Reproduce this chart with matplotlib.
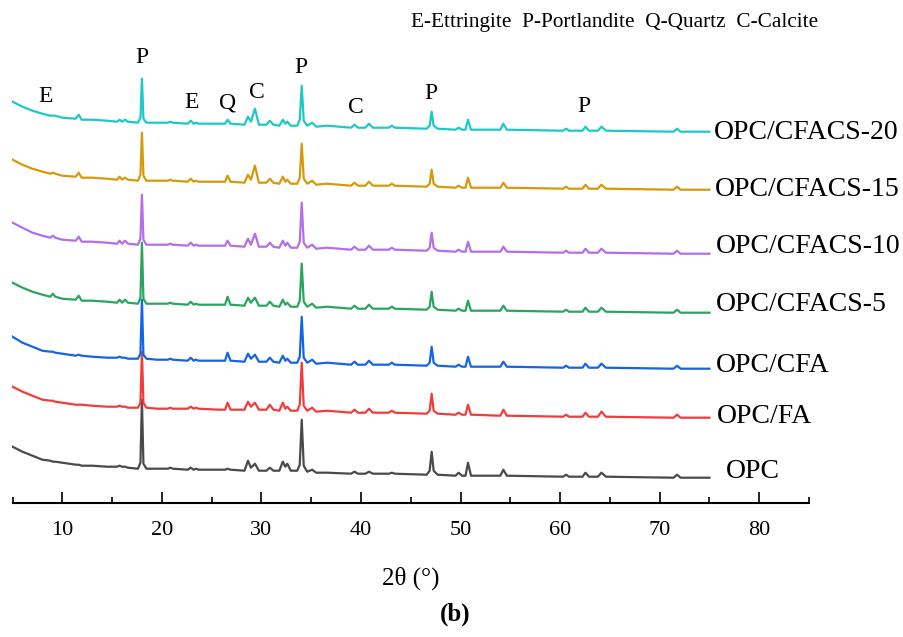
import matplotlib.pyplot as plt
import numpy as np
from matplotlib.ticker import MultipleLocator

plt.rcParams['font.family'] = ['Liberation Serif', 'DejaVu Serif']

two_theta = [
    5.0, 6.0, 7.0, 8.0, 8.8, 9.05, 9.3, 10.0, 11.35, 11.65,
    11.95, 13.0, 14.5, 15.5, 15.75, 16.0, 16.3, 16.6, 17.6, 17.85,
    18.0, 18.15, 18.45, 19.5, 20.6, 20.85, 21.1, 22.6, 22.9, 23.2,
    23.4, 23.7, 25.8, 26.35, 26.6, 26.9, 28.3, 28.65, 28.95, 29.35,
    29.75, 30.5, 30.85, 31.2, 31.8, 32.15, 32.4, 32.6, 32.95, 33.6,
    33.85, 34.05, 34.25, 34.6, 35.1, 35.5, 36.6, 39.0, 39.35, 39.7,
    40.45, 40.8, 41.2, 42.8, 43.1, 43.4, 46.6, 46.9, 47.1, 47.3,
    47.7, 49.5, 49.8, 50.15, 50.5, 50.75, 51.05, 54.0, 54.3, 54.65,
    60.3, 60.6, 60.9, 62.25, 62.55, 62.9, 63.8, 64.15, 64.6, 71.4,
    71.75, 72.1, 75.0,
]

# intensities (a.u.) for each sample, same order as two_theta
opc = [
    41, 36, 32, 28, 27, 26, 26, 25, 23, 23,
    22, 22, 21, 21, 22, 21, 21, 20, 19, 25,
    88, 24, 19, 19, 19, 20, 19, 18, 20, 18,
    19, 18, 18, 18, 19, 18, 17, 27, 20, 24,
    17, 17, 20, 17, 17, 26, 21, 24, 17, 17,
    23, 68, 22, 16, 18, 15, 15, 14, 16, 14,
    14, 16, 14, 14, 15, 14, 13, 17, 36, 17,
    13, 12, 15, 12, 12, 25, 12, 12, 18, 12,
    11, 13, 11, 11, 15, 11, 11, 15, 11, 10,
    13, 10, 10,
]
opc_fa = [
    41, 36, 32, 28, 27, 27, 26, 25, 23, 23,
    23, 22, 21, 21, 22, 21, 21, 20, 20, 25,
    76, 25, 20, 19, 19, 20, 19, 19, 21, 19,
    20, 19, 18, 18, 25, 18, 18, 26, 21, 25,
    18, 18, 23, 18, 17, 25, 19, 21, 17, 17,
    23, 65, 22, 17, 20, 16, 17, 15, 18, 15,
    15, 19, 15, 15, 17, 15, 14, 17, 34, 17,
    14, 13, 15, 13, 13, 23, 13, 12, 18, 12,
    11, 13, 11, 11, 15, 11, 11, 16, 11, 10,
    13, 10, 10,
]
opc_cfa = [
    42, 36, 32, 28, 27, 27, 26, 25, 23, 24,
    23, 22, 21, 21, 22, 21, 21, 20, 20, 25,
    79, 24, 20, 19, 19, 20, 19, 18, 21, 18,
    19, 18, 18, 18, 26, 18, 17, 25, 20, 24,
    17, 17, 21, 17, 16, 23, 18, 20, 16, 16,
    22, 62, 21, 16, 19, 15, 16, 14, 17, 14,
    14, 18, 14, 14, 16, 14, 13, 16, 32, 16,
    13, 12, 14, 12, 12, 22, 12, 12, 17, 12,
    11, 13, 11, 11, 15, 11, 11, 15, 11, 10,
    13, 10, 10,
]
opc_cfacs5 = [
    40, 35, 31, 28, 26, 29, 26, 24, 23, 27,
    22, 22, 21, 20, 23, 20, 23, 20, 19, 25,
    80, 24, 19, 19, 19, 20, 19, 18, 21, 18,
    19, 18, 18, 18, 26, 18, 17, 25, 20, 25,
    17, 17, 21, 17, 16, 23, 18, 20, 16, 16,
    22, 59, 21, 16, 19, 15, 16, 14, 17, 14,
    14, 18, 14, 14, 16, 14, 13, 16, 31, 16,
    13, 12, 14, 12, 12, 22, 12, 12, 17, 12,
    11, 13, 11, 11, 15, 11, 11, 15, 11, 10,
    13, 10, 10,
]
opc_cfacs10 = [
    41, 36, 31, 28, 26, 28, 26, 24, 23, 27,
    22, 22, 21, 20, 23, 20, 23, 20, 19, 25,
    69, 24, 19, 19, 19, 20, 19, 18, 21, 18,
    19, 18, 18, 18, 23, 18, 17, 25, 19, 30,
    17, 17, 21, 17, 16, 23, 18, 21, 16, 16,
    22, 61, 21, 16, 19, 15, 16, 14, 17, 14,
    14, 18, 14, 14, 16, 14, 13, 16, 31, 16,
    13, 12, 14, 12, 12, 22, 12, 12, 17, 12,
    11, 13, 11, 11, 15, 11, 11, 15, 11, 10,
    13, 10, 10,
]
opc_cfacs15 = [
    40, 35, 31, 28, 26, 27, 26, 24, 23, 27,
    22, 22, 21, 20, 23, 20, 22, 20, 19, 25,
    67, 24, 19, 19, 19, 20, 19, 18, 21, 18,
    19, 18, 18, 18, 24, 18, 17, 25, 20, 34,
    17, 17, 21, 17, 16, 23, 18, 20, 16, 16,
    22, 56, 21, 16, 19, 15, 16, 14, 17, 14,
    14, 18, 14, 14, 16, 14, 13, 16, 30, 16,
    13, 12, 14, 12, 12, 22, 12, 12, 17, 12,
    11, 13, 11, 11, 15, 11, 11, 15, 11, 10,
    13, 10, 10,
]
opc_cfacs20 = [
    40, 35, 31, 28, 26, 26, 26, 24, 23, 27,
    22, 22, 21, 20, 22, 20, 22, 20, 19, 24,
    63, 23, 19, 19, 19, 20, 19, 18, 21, 18,
    19, 18, 18, 18, 22, 18, 17, 25, 20, 33,
    17, 17, 21, 17, 16, 22, 18, 20, 16, 16,
    22, 56, 21, 16, 19, 15, 16, 14, 17, 14,
    14, 18, 14, 14, 16, 14, 13, 16, 30, 16,
    13, 12, 14, 12, 12, 22, 12, 12, 18, 12,
    11, 13, 11, 11, 15, 11, 11, 15, 11, 10,
    13, 10, 10,
]

samples = ["OPC", "OPC/FA", "OPC/CFA", "OPC/CFACS-5",
           "OPC/CFACS-10", "OPC/CFACS-15", "OPC/CFACS-20"]
patterns = [opc, opc_fa, opc_cfa, opc_cfacs5, opc_cfacs10, opc_cfacs15, opc_cfacs20]
colors = ["#4a4a4a", "#f23c3c", "#1464e6", "#2aa55f", "#b36ee8", "#d49a0a", "#1ec8c8"]

# vertical stacking and label placement
offsets = [15, 75, 124, 180, 239, 303, 361]
label_x = [76.7, 75.75, 75.65, 75.65, 75.65, 75.55, 75.45]
label_dy = [6, 1, 3, 8, 7, 0, -1]

# phase marks: (letter, 2theta, height)
marks = [("E", 8.3, 406), ("P", 18.0, 445), ("E", 23.0, 400), ("Q", 26.65, 400),
         ("C", 29.5, 410), ("P", 34.0, 435), ("C", 39.5, 395), ("P", 47.05, 409),
         ("P", 62.4, 396)]

fig = plt.figure(figsize=(9.04, 6.37), dpi=100)
ax = fig.add_axes([12.5 / 904, 1 - 502.7 / 637, (809 - 12.5) / 904, 502.7 / 637])

for name, y, c, off, lx, dy in zip(samples, patterns, colors, offsets, label_x, label_dy):
    ax.plot(two_theta, np.array(y) + off, color=c, lw=1.6)
    ax.text(lx, y[-1] + off + dy, name, fontsize=20, ha="left", va="center")

for letter, xm, ym in marks:
    ax.text(xm, ym, letter, fontsize=17, ha="center", va="center")

ax.set_xlim(5, 85)
ax.set_ylim(0, 502.7)
for s in ["left", "right", "top"]:
    ax.spines[s].set_visible(False)
ax.spines["bottom"].set_linewidth(1.5)
ax.set_yticks([])
ax.xaxis.set_major_locator(MultipleLocator(10))
ax.xaxis.set_minor_locator(MultipleLocator(5))
ax.tick_params(axis="x", which="major", direction="in", length=8, width=1.2,
               labelsize=16, pad=13)
ax.tick_params(axis="x", which="minor", direction="in", length=4, width=1.2)
ax.set_xlabel("2θ (°)", fontsize=18, labelpad=19)
ax.patch.set_alpha(0)

fig.text(615 / 904, 1 - 22 / 637, "E-Ettringite  P-Portlandite  Q-Quartz  C-Calcite",
         fontsize=15.3, ha="center", va="center")
fig.text(455 / 904, 1 - 614 / 637, "(b)", fontsize=18, fontweight="bold",
         ha="center", va="center")

plt.savefig("out.png", dpi=100)
plt.close()
